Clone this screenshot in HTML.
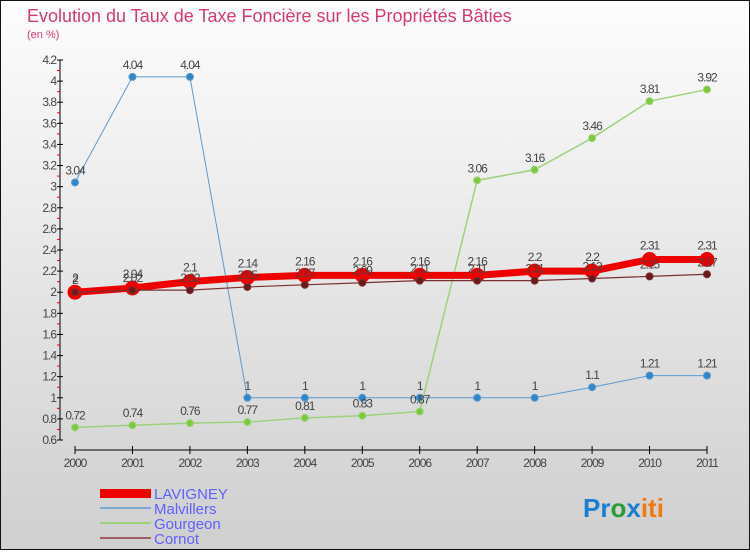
<!DOCTYPE html>
<html><head><meta charset="utf-8"><style>
body{margin:0}
#c{width:750px;height:550px;position:relative;font-family:"Liberation Sans",sans-serif}
</style></head><body>
<div id="c">
<svg id="s" width="750" height="550" xmlns="http://www.w3.org/2000/svg">
<defs><linearGradient id="bg" x1="0" y1="0" x2="0" y2="1"><stop offset="0" stop-color="#fdfdfd"/><stop offset="1" stop-color="#cfcfcf"/></linearGradient></defs>
<rect x="0.5" y="0.5" width="749" height="549" fill="url(#bg)" stroke="#111"/>
<text x="27" y="22" font-size="18" fill="#d63a6a">Evolution du Taux de Taxe Foncière sur les Propriétés Bâties</text>
<text x="27" y="38" font-size="11" fill="#d63a6a">(en %)</text>
<g id="axes"></g><g id="series"></g>
<g>
<rect x="100" y="489" width="51" height="9" fill="#e00"/>
<text x="154" y="499" font-size="15" fill="#6060ff">LAVIGNEY</text>
<line x1="100" y1="508" x2="151" y2="508" stroke="#7aaad0" stroke-width="2"/>
<text x="154" y="514" font-size="15" fill="#6060ff">Malvillers</text>
<line x1="100" y1="523" x2="151" y2="523" stroke="#9ed27a" stroke-width="2"/>
<text x="154" y="529" font-size="15" fill="#6060ff">Gourgeon</text>
<line x1="100" y1="538" x2="151" y2="538" stroke="#a06060" stroke-width="2"/>
<text x="154" y="544" font-size="15" fill="#6060ff">Cornot</text>
</g>
<text x="583" y="517" font-size="26" font-weight="bold"><tspan fill="#1a7fd0">Pr</tspan><tspan fill="#2a9a3a">o</tspan><tspan fill="#1a7fd0">x</tspan><tspan fill="#f07a10">iti</tspan></text>
</svg></div>
<script>
const years=[2000,2001,2002,2003,2004,2005,2006,2007,2008,2009,2010,2011];
const yTicks=[0.6,0.8,1,1.2,1.4,1.6,1.8,2,2.2,2.4,2.6,2.8,3,3.2,3.4,3.6,3.8,4,4.2];
const lavigney=[2,2.04,2.1,2.14,2.16,2.16,2.16,2.16,2.2,2.2,2.31,2.31];
const malvillers=[3.04,4.04,4.04,1,1,1,1,1,1,1.1,1.21,1.21];
const gourgeon=[0.72,0.74,0.76,0.77,0.81,0.83,0.87,3.06,3.16,3.46,3.81,3.92];
const cornot=[2,2.02,2.02,2.05,2.07,2.09,2.11,2.11,2.11,2.13,2.15,2.17];
const NS="http://www.w3.org/2000/svg";
function X(i){return 75+i*(707-75)/(years.length-1);}
function Y(v){return 440-(v-0.6)*(380/3.6);}
function mk(tag,attrs,parent,txt){const e=document.createElementNS(NS,tag);for(const k in attrs)e.setAttribute(k,attrs[k]);if(txt!==undefined)e.textContent=txt;parent.appendChild(e);return e;}
const ax=document.getElementById('axes');
let e=mk('line',{x1:60,y1:Y(4.2),x2:60,y2:Y(0.6),stroke:'#000'},ax);


e=mk('line',{x1:75,y1:450,x2:707,y2:450,stroke:'#000'},ax);


yTicks.forEach((t,i)=>{
 mk('line',{x1:57,y1:Y(t),x2:63,y2:Y(t),stroke:'#000'},ax);
 if(i<yTicks.length-1) mk('line',{x1:57,y1:Y(t+0.1),x2:60,y2:Y(t+0.1),stroke:'#e00'},ax);
 const l=mk('text',{x:56,y:Y(t)+4,'font-size':12,'text-anchor':'end',fill:'#444','letter-spacing':'-1'},ax,String(t));
 
 
});
years.forEach((y,i)=>{
 mk('line',{x1:X(i),y1:446,x2:X(i),y2:454,stroke:'#000'},ax);
 const l=mk('text',{x:X(i),y:467,'font-size':12,'text-anchor':'middle',fill:'#444','letter-spacing':'-1'},ax,String(y));
 
 
});
const sg=document.getElementById('series');
function draw(name,vals,color,w,r,dot,lblOff){
 const g=mk('g',{},sg);
 
 
 const pts=vals.map((v,i)=>X(i)+','+Y(v)).join(' ');
 mk('polyline',{points:pts,fill:'none',stroke:color,'stroke-width':w},g);
 vals.forEach((v,i)=>{
  const c=mk('circle',{cx:X(i),cy:Y(v),r:r,fill:dot,stroke:color,'stroke-width':1},g);
  
  
  const t=mk('text',{x:X(i),y:Y(v)+lblOff,'font-size':12,'text-anchor':'middle',fill:'#444','letter-spacing':'-1'},g,String(v));
  
  
 });
}
draw('malvillers',malvillers,'#5a9ad0',1,3.5,'#2f86c8',-8);
draw('gourgeon',gourgeon,'#9ed27a',1.5,3.5,'#7acb3c',-8);
draw('lavigney',lavigney,'#ee0000',7,7,'#ee0000',-10);
draw('cornot',cornot,'#7a3030',1.2,3.5,'#6a1a1a',-8);
</script>
</body></html>
